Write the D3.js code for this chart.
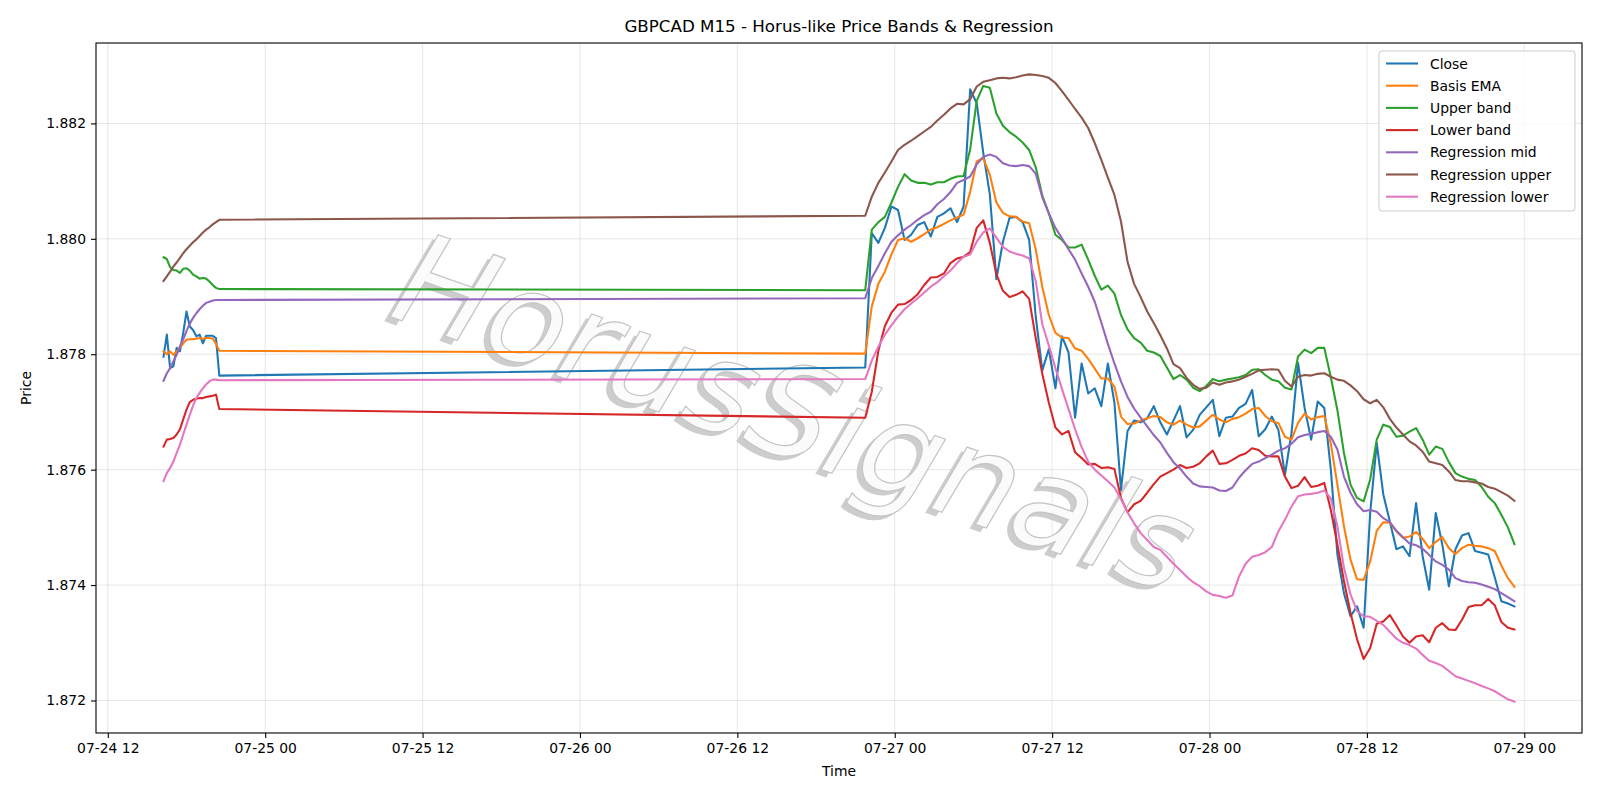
<!DOCTYPE html>
<html>
<head>
<meta charset="utf-8">
<script src="https://d3js.org/d3.v7.min.js"></script>
<style>
  body { margin: 0; background: #fff; }
  text { font-family: "DejaVu Sans", sans-serif; }
</style>
</head>
<body>
<script>
// two runs of bars: a short one on 07-24 (15 min) and the main one from 07-26 (read every 30 min)
var runA = {start: Date.UTC(2025, 6, 24, 16, 15), step: 15, n: 18};
var runB = {start: Date.UTC(2025, 6, 26, 21, 45), step: 30, n: 100};

var closeP = [
  1.87796, 1.87834, 1.87776, 1.87779, 1.87811, 1.87805, 1.87837, 1.87874, 1.87848, 1.87842, 1.87831, 1.87834, 1.87819, 1.87832, 1.87832, 1.87832, 1.87828, 1.87763,
  1.87777, 1.88010, 1.87993, 1.88019, 1.88056, 1.88050, 1.87998, 1.88007, 1.88024, 1.88029, 1.88004, 1.88038, 1.88044, 1.88053, 1.88029, 1.88056, 1.88259, 1.88235, 1.88149, 1.88077,
  1.87930, 1.87995, 1.88036, 1.88038, 1.88029, 1.87998, 1.87865, 1.87772, 1.87809, 1.87741, 1.87831, 1.87803, 1.87690, 1.87784, 1.87732, 1.87741, 1.87710, 1.87784, 1.87716, 1.87565,
  1.87667, 1.87685, 1.87682, 1.87689, 1.87710, 1.87682, 1.87661, 1.87685, 1.87710, 1.87656, 1.87669, 1.87695, 1.87708, 1.87721, 1.87658, 1.87690, 1.87692, 1.87707, 1.87714, 1.87738,
  1.87658, 1.87670, 1.87692, 1.87669, 1.87591, 1.87663, 1.87785, 1.87707, 1.87652, 1.87718, 1.87707, 1.87600, 1.87453, 1.87386, 1.87346, 1.87363, 1.87326, 1.87525, 1.87646, 1.87557,
  1.87510, 1.87462, 1.87467, 1.87450, 1.87542, 1.87450, 1.87392, 1.87525, 1.87470, 1.87398, 1.87462, 1.87486, 1.87490, 1.87459, 1.87456, 1.87453, 1.87413, 1.87372, 1.87368, 1.87363
];
var basisEma = [
  1.87805, 1.87800, 1.87805, 1.87799, 1.87805, 1.87811, 1.87819, 1.87825, 1.87826, 1.87826, 1.87827, 1.87828, 1.87827, 1.87828, 1.87828, 1.87827, 1.87818, 1.87806,
  1.87801, 1.87883, 1.87922, 1.87943, 1.87973, 1.87998, 1.88001, 1.87995, 1.88001, 1.88008, 1.88016, 1.88020, 1.88026, 1.88032, 1.88037, 1.88042, 1.88081, 1.88134, 1.88140, 1.88111,
  1.88063, 1.88045, 1.88039, 1.88038, 1.88030, 1.88027, 1.87982, 1.87917, 1.87868, 1.87837, 1.87829, 1.87828, 1.87810, 1.87806, 1.87792, 1.87775, 1.87758, 1.87758, 1.87744, 1.87692,
  1.87679, 1.87680, 1.87685, 1.87689, 1.87693, 1.87691, 1.87682, 1.87678, 1.87685, 1.87678, 1.87673, 1.87675, 1.87685, 1.87695, 1.87687, 1.87682, 1.87688, 1.87691, 1.87697, 1.87705,
  1.87707, 1.87693, 1.87684, 1.87681, 1.87657, 1.87652, 1.87681, 1.87697, 1.87687, 1.87691, 1.87693, 1.87645, 1.87574, 1.87502, 1.87444, 1.87410, 1.87409, 1.87441, 1.87494, 1.87509,
  1.87508, 1.87493, 1.87482, 1.87484, 1.87492, 1.87480, 1.87464, 1.87475, 1.87483, 1.87464, 1.87454, 1.87464, 1.87470, 1.87468, 1.87467, 1.87464, 1.87459, 1.87434, 1.87412, 1.87397
];
var upperBand = [
  1.87968, 1.87965, 1.87951, 1.87946, 1.87945, 1.87941, 1.87948, 1.87949, 1.87945, 1.87938, 1.87935, 1.87931, 1.87932, 1.87931, 1.87926, 1.87920, 1.87915, 1.87913,
  1.87911, 1.88016, 1.88029, 1.88038, 1.88063, 1.88090, 1.88112, 1.88101, 1.88097, 1.88097, 1.88094, 1.88098, 1.88098, 1.88104, 1.88108, 1.88109, 1.88155, 1.88239, 1.88265, 1.88262,
  1.88217, 1.88196, 1.88185, 1.88177, 1.88167, 1.88154, 1.88124, 1.88075, 1.88044, 1.88007, 1.87998, 1.87985, 1.87985, 1.87990, 1.87964, 1.87936, 1.87912, 1.87919, 1.87905, 1.87868,
  1.87843, 1.87828, 1.87820, 1.87806, 1.87803, 1.87797, 1.87777, 1.87757, 1.87764, 1.87756, 1.87742, 1.87736, 1.87745, 1.87757, 1.87753, 1.87756, 1.87758, 1.87760, 1.87764, 1.87773,
  1.87774, 1.87764, 1.87756, 1.87753, 1.87742, 1.87739, 1.87796, 1.87808, 1.87802, 1.87811, 1.87811, 1.87760, 1.87703, 1.87629, 1.87574, 1.87551, 1.87545, 1.87583, 1.87652, 1.87678,
  1.87674, 1.87657, 1.87659, 1.87666, 1.87672, 1.87652, 1.87626, 1.87640, 1.87636, 1.87613, 1.87594, 1.87588, 1.87584, 1.87582, 1.87570, 1.87553, 1.87542, 1.87522, 1.87500, 1.87471
];
var lowerBand = [
  1.87640, 1.87652, 1.87653, 1.87655, 1.87661, 1.87670, 1.87687, 1.87704, 1.87717, 1.87721, 1.87723, 1.87724, 1.87724, 1.87726, 1.87727, 1.87728, 1.87730, 1.87705,
  1.87690, 1.87735, 1.87806, 1.87849, 1.87872, 1.87886, 1.87887, 1.87894, 1.87904, 1.87920, 1.87933, 1.87934, 1.87940, 1.87958, 1.87966, 1.87969, 1.87977, 1.88019, 1.88032, 1.87993,
  1.87939, 1.87910, 1.87899, 1.87903, 1.87909, 1.87896, 1.87828, 1.87766, 1.87716, 1.87673, 1.87661, 1.87667, 1.87630, 1.87620, 1.87609, 1.87610, 1.87603, 1.87604, 1.87601, 1.87551,
  1.87526, 1.87540, 1.87546, 1.87560, 1.87575, 1.87588, 1.87594, 1.87600, 1.87608, 1.87603, 1.87605, 1.87611, 1.87623, 1.87633, 1.87610, 1.87611, 1.87617, 1.87624, 1.87628, 1.87637,
  1.87634, 1.87624, 1.87623, 1.87623, 1.87588, 1.87568, 1.87572, 1.87587, 1.87570, 1.87572, 1.87577, 1.87530, 1.87470, 1.87407, 1.87352, 1.87306, 1.87272, 1.87291, 1.87333, 1.87337,
  1.87348, 1.87330, 1.87311, 1.87300, 1.87311, 1.87313, 1.87301, 1.87326, 1.87334, 1.87323, 1.87322, 1.87340, 1.87362, 1.87365, 1.87365, 1.87376, 1.87365, 1.87336, 1.87326, 1.87323
];
var regMid = [
  1.87754, 1.87767, 1.87776, 1.87788, 1.87799, 1.87814, 1.87826, 1.87840, 1.87853, 1.87863, 1.87871, 1.87878, 1.87884, 1.87889, 1.87891, 1.87893, 1.87894, 1.87894,
  1.87897, 1.87932, 1.87953, 1.87975, 1.87995, 1.88006, 1.88016, 1.88024, 1.88033, 1.88041, 1.88047, 1.88060, 1.88069, 1.88081, 1.88097, 1.88102, 1.88108, 1.88129, 1.88142, 1.88146,
  1.88142, 1.88131, 1.88127, 1.88126, 1.88128, 1.88126, 1.88113, 1.88072, 1.88044, 1.88019, 1.88001, 1.87982, 1.87964, 1.87940, 1.87917, 1.87891, 1.87855, 1.87818, 1.87784, 1.87753,
  1.87726, 1.87706, 1.87690, 1.87675, 1.87660, 1.87647, 1.87629, 1.87613, 1.87602, 1.87588, 1.87576, 1.87571, 1.87570, 1.87569, 1.87564, 1.87563, 1.87569, 1.87586, 1.87599, 1.87610,
  1.87614, 1.87620, 1.87626, 1.87633, 1.87637, 1.87645, 1.87656, 1.87660, 1.87662, 1.87665, 1.87667, 1.87657, 1.87635, 1.87588, 1.87560, 1.87540, 1.87528, 1.87530, 1.87527, 1.87516,
  1.87509, 1.87494, 1.87483, 1.87472, 1.87469, 1.87463, 1.87452, 1.87441, 1.87435, 1.87427, 1.87412, 1.87407, 1.87405, 1.87404, 1.87401, 1.87397, 1.87393, 1.87386, 1.87379, 1.87372
];
var regUpper = [
  1.87927, 1.87935, 1.87943, 1.87952, 1.87959, 1.87967, 1.87975, 1.87982, 1.87988, 1.87994, 1.87999, 1.88005, 1.88011, 1.88016, 1.88020, 1.88025, 1.88029, 1.88033,
  1.88040, 1.88073, 1.88097, 1.88115, 1.88134, 1.88154, 1.88163, 1.88170, 1.88178, 1.88186, 1.88194, 1.88205, 1.88215, 1.88226, 1.88234, 1.88233, 1.88242, 1.88264, 1.88272, 1.88275,
  1.88278, 1.88279, 1.88278, 1.88280, 1.88283, 1.88285, 1.88284, 1.88282, 1.88279, 1.88270, 1.88256, 1.88241, 1.88225, 1.88210, 1.88192, 1.88166, 1.88137, 1.88106, 1.88076, 1.88030,
  1.87960, 1.87922, 1.87899, 1.87874, 1.87854, 1.87833, 1.87810, 1.87783, 1.87776, 1.87759, 1.87747, 1.87740, 1.87742, 1.87751, 1.87747, 1.87751, 1.87753, 1.87756, 1.87761, 1.87766,
  1.87772, 1.87773, 1.87774, 1.87773, 1.87754, 1.87744, 1.87761, 1.87764, 1.87763, 1.87766, 1.87767, 1.87761, 1.87756, 1.87754, 1.87746, 1.87736, 1.87722, 1.87715, 1.87721, 1.87708,
  1.87688, 1.87673, 1.87661, 1.87649, 1.87642, 1.87631, 1.87614, 1.87611, 1.87608, 1.87597, 1.87582, 1.87580, 1.87580, 1.87578, 1.87576, 1.87570, 1.87567, 1.87561, 1.87555, 1.87546
];
var regLower = [
  1.87580, 1.87594, 1.87603, 1.87614, 1.87629, 1.87643, 1.87661, 1.87678, 1.87695, 1.87711, 1.87724, 1.87733, 1.87741, 1.87748, 1.87753, 1.87756, 1.87756, 1.87755,
  1.87757, 1.87789, 1.87813, 1.87834, 1.87850, 1.87865, 1.87878, 1.87888, 1.87897, 1.87907, 1.87917, 1.87925, 1.87935, 1.87945, 1.87958, 1.87969, 1.87973, 1.87995, 1.88011, 1.88018,
  1.88002, 1.87986, 1.87978, 1.87974, 1.87971, 1.87966, 1.87927, 1.87852, 1.87815, 1.87776, 1.87740, 1.87705, 1.87670, 1.87639, 1.87614, 1.87600, 1.87590, 1.87580, 1.87569, 1.87549,
  1.87526, 1.87507, 1.87490, 1.87478, 1.87466, 1.87461, 1.87449, 1.87437, 1.87426, 1.87415, 1.87405, 1.87398, 1.87389, 1.87383, 1.87381, 1.87378, 1.87382, 1.87415, 1.87437, 1.87449,
  1.87452, 1.87457, 1.87466, 1.87493, 1.87513, 1.87536, 1.87554, 1.87557, 1.87558, 1.87560, 1.87564, 1.87550, 1.87502, 1.87430, 1.87384, 1.87355, 1.87346, 1.87345, 1.87338, 1.87331,
  1.87319, 1.87307, 1.87300, 1.87296, 1.87290, 1.87279, 1.87269, 1.87265, 1.87260, 1.87251, 1.87242, 1.87238, 1.87234, 1.87230, 1.87225, 1.87221, 1.87216, 1.87209, 1.87202, 1.87198
];

var seriesNames = ["Close", "Basis EMA", "Upper band", "Lower band", "Regression mid", "Regression upper", "Regression lower"];
var seriesValues = [closeP, basisEma, upperBand, lowerBand, regMid, regUpper, regLower];
var colors = ["#1f77b4", "#ff7f0e", "#2ca02c", "#d62728", "#9467bd", "#8c564b", "#e377c2"];
var yTicks = [1.872, 1.874, 1.876, 1.878, 1.880, 1.882];

var times = [];
[runA, runB].forEach(function(r) {
  for (var k = 0; k < r.n; k++) times.push(new Date(r.start + k * r.step * 60000));
});

var W = 1600, H = 800;
var box = {left: 96, right: 1582, top: 43, bottom: 733};

var svg = d3.select("body").append("svg")
    .attr("width", W)
    .attr("height", H);

// matplotlib style 5% margins
var tExt = d3.extent(times), tPad = (tExt[1] - tExt[0]) * 0.05;
var x = d3.scaleUtc()
    .domain([new Date(+tExt[0] - tPad), new Date(+tExt[1] + tPad)])
    .range([box.left, box.right]);

var allV = d3.merge(seriesValues);
var vMin = d3.min(allV), vMax = d3.max(allV), vPad = (vMax - vMin) * 0.05;
var y = d3.scaleLinear()
    .domain([vMin - vPad, vMax + vPad])
    .range([box.bottom, box.top]);

var xTicks = d3.utcHour.every(12).range(new Date(Date.UTC(2025, 6, 24, 12)), new Date(Date.UTC(2025, 6, 29, 1)));

// grid
svg.append("g").selectAll("line.gx")
    .data(xTicks).enter().append("line")
    .attr("x1", d => x(d)).attr("x2", d => x(d))
    .attr("y1", box.top).attr("y2", box.bottom)
    .attr("stroke", "#b0b0b0").attr("stroke-opacity", 0.3).attr("stroke-width", 1);
svg.append("g").selectAll("line.gy")
    .data(yTicks).enter().append("line")
    .attr("x1", box.left).attr("x2", box.right)
    .attr("y1", d => y(d)).attr("y2", d => y(d))
    .attr("stroke", "#b0b0b0").attr("stroke-opacity", 0.3).attr("stroke-width", 1);

svg.append("clipPath").attr("id", "plotclip").append("rect")
    .attr("x", box.left).attr("y", box.top)
    .attr("width", box.right - box.left).attr("height", box.bottom - box.top);

var plot = svg.append("g").attr("clip-path", "url(#plotclip)");

// watermark
var wm = plot.append("g").attr("transform", "translate(795,413) rotate(19.5)");
wm.append("text")
    .attr("x", -4).attr("y", 6)
    .attr("text-anchor", "middle").attr("dominant-baseline", "central")
    .attr("font-size", 128).attr("font-style", "italic")
    .attr("fill", "#cdcdcd")
    .text("HorusSignals");
wm.append("text")
    .attr("text-anchor", "middle").attr("dominant-baseline", "central")
    .attr("font-size", 128).attr("font-style", "italic")
    .attr("fill", "#fbfbfb").attr("stroke", "#c4c4c4").attr("stroke-width", 1.2)
    .text("HorusSignals");

var line = d3.line()
    .x((d, i) => x(times[i]))
    .y(d => y(d));

seriesValues.forEach(function(vals, s) {
  plot.append("path")
      .datum(vals)
      .attr("fill", "none")
      .attr("stroke", colors[s])
      .attr("stroke-width", 2.08)
      .attr("stroke-linejoin", "round")
      .attr("stroke-linecap", "square")
      .attr("d", line);
});

// axes
var fmt = d3.utcFormat("%m-%d %H");
var xAxis = svg.append("g")
    .attr("transform", "translate(0," + box.bottom + ")")
    .call(d3.axisBottom(x).tickValues(xTicks).tickFormat(fmt).tickSize(5).tickPadding(5));
var yAxis = svg.append("g")
    .attr("transform", "translate(" + box.left + ",0)")
    .call(d3.axisLeft(y).tickValues(yTicks).tickFormat(d3.format(".3f")).tickSize(5).tickPadding(5));
[xAxis, yAxis].forEach(function(a) {
  a.select(".domain").remove();
  a.selectAll("text").attr("font-size", 13.9).attr("fill", "#000")
      .attr("font-family", "DejaVu Sans, sans-serif");
  a.selectAll("line").attr("stroke", "#000").attr("stroke-width", 1.1);
});

svg.append("rect")
    .attr("x", box.left).attr("y", box.top)
    .attr("width", box.right - box.left).attr("height", box.bottom - box.top)
    .attr("fill", "none").attr("stroke", "#000").attr("stroke-width", 1.1);

svg.append("text")
    .attr("x", (box.left + box.right) / 2).attr("y", 26)
    .attr("text-anchor", "middle").attr("dominant-baseline", "central")
    .attr("font-size", 16.7)
    .text("GBPCAD M15 - Horus-like Price Bands & Regression");
svg.append("text")
    .attr("x", (box.left + box.right) / 2).attr("y", 771)
    .attr("text-anchor", "middle").attr("dominant-baseline", "central")
    .attr("font-size", 13.9)
    .text("Time");
svg.append("text")
    .attr("transform", "translate(26," + (box.top + box.bottom) / 2 + ") rotate(-90)")
    .attr("text-anchor", "middle").attr("dominant-baseline", "central")
    .attr("font-size", 13.9)
    .text("Price");

// legend
var lg = svg.append("g").attr("transform", "translate(1379,51)");
lg.append("rect")
    .attr("width", 196).attr("height", 160).attr("rx", 3)
    .attr("fill", "#fff").attr("fill-opacity", 0.8)
    .attr("stroke", "#cccccc").attr("stroke-width", 1);
seriesNames.forEach(function(name, s) {
  var yy = 12.5 + s * 22.2;
  lg.append("line")
      .attr("x1", 7).attr("x2", 39).attr("y1", yy).attr("y2", yy)
      .attr("stroke", colors[s]).attr("stroke-width", 2.08);
  lg.append("text")
      .attr("x", 51).attr("y", yy)
      .attr("dominant-baseline", "central")
      .attr("font-size", 13.9)
      .text(name);
});
</script>
</body>
</html>
